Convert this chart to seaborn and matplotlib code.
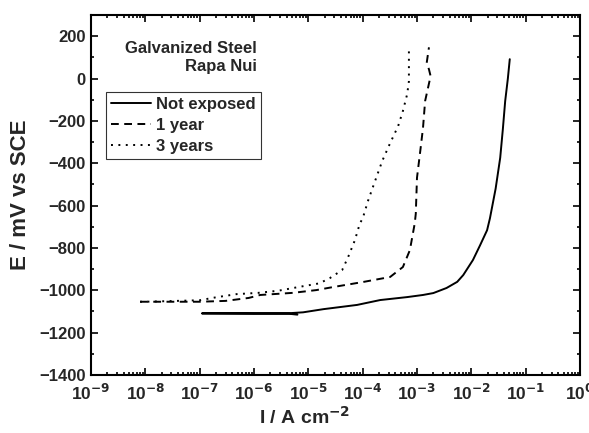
import matplotlib
matplotlib.use("Agg")
import matplotlib.pyplot as plt
import matplotlib.ticker as mticker
import seaborn as sns
import numpy as np
import pandas as pd

# Polarization curves of galvanized steel, Rapa Nui site
not_exposed_i = [6.3e-6, 4.5e-6, 1e-6, 1.1e-7, 1e-6, 4.5e-6, 8e-6,
                 1.9e-5, 7.9e-5, 2.1e-4, 6.6e-4, 1.29e-3, 2.0e-3, 3.5e-3,
                 5.5e-3, 7.1e-3, 1.07e-2, 1.45e-2, 1.95e-2, 2.2e-2, 2.8e-2,
                 3.4e-2, 3.8e-2, 4.2e-2, 4.7e-2, 5.1e-2]
not_exposed_e = [-1115, -1111, -1110, -1109, -1109, -1108, -1104,
                 -1089, -1069, -1046, -1032, -1022, -1013, -989,
                 -960, -928, -857, -787, -716, -660, -520,
                 -374, -240, -106, 0, 92]

one_year_i = [8e-9, 1e-8, 1e-7, 3e-7, 8e-7, 1.3e-6, 5.2e-6, 1.4e-5, 2.8e-5,
              1e-4, 3.2e-4, 5.5e-4, 7.4e-4, 9.1e-4, 9.5e-4, 1.0e-3, 1.15e-3,
              1.29e-3, 1.41e-3, 1.78e-3, 1.66e-3, 1.51e-3, 1.66e-3]
one_year_e = [-1054, -1054, -1054, -1050, -1036, -1022, -1012, -999, -985,
              -961, -937, -890, -810, -683, -638, -468, -341,
              -233, -106, 12, 44, 75, 148]

three_years_i = [8e-9, 1e-8, 1e-7, 2e-7, 4.8e-7, 1.2e-6, 2.8e-6, 7.1e-6, 1.07e-5,
                 1.6e-5, 2.5e-5, 4.2e-5, 5.4e-5, 7.2e-5, 8.9e-5, 1.0e-4,
                 1.26e-4, 1.7e-4, 2.3e-4, 3.16e-4, 4.5e-4, 5.5e-4, 6.6e-4,
                 7.1e-4, 7.1e-4]
three_years_e = [-1054, -1054, -1047, -1033, -1018, -1012, -1002, -983, -975,
                 -967, -942, -904, -843, -763, -683, -661,
                 -576, -482, -388, -308, -224, -153, -73,
                 -12, 139]

series_names = ["Not exposed", "1 year", "3 years"]
series_styles = ["-", (0, (4.0, 2.8)), (0, (1.0, 2.8))]

frames = []
for name, xs, ys in zip(series_names,
                        [not_exposed_i, one_year_i, three_years_i],
                        [not_exposed_e, one_year_e, three_years_e]):
    frames.append(pd.DataFrame({"I": xs, "E": ys, "series": name}))
data = pd.concat(frames, ignore_index=True)

sns.set_style("ticks")
plt.rcParams["font.family"] = ["Liberation Sans", "DejaVu Sans"]
plt.rcParams["font.weight"] = "bold"
plt.rcParams["mathtext.default"] = "bf"

fig = plt.figure(figsize=(5.89, 4.33), dpi=100)
ax = fig.add_axes([0.1545, 0.134, 0.9847 - 0.1545, 0.965 - 0.134])

for name, ls in zip(series_names, series_styles):
    sub = data[data["series"] == name]
    sns.lineplot(data=sub, x="I", y="E", sort=False, estimator=None,
                 color="black", linewidth=1.4, linestyle=ls, label=name, ax=ax)

ax.set_xscale("log")
ax.set_xlim(1e-9, 1)
ax.set_ylim(-1400, 295)
ax.set_yticks(np.arange(-1400, 201, 200))
ax.set_yticks(np.arange(-1300, 301, 200), minor=True)
ax.xaxis.set_major_locator(mticker.LogLocator(base=10, numticks=12))
ax.xaxis.set_minor_locator(mticker.LogLocator(base=10, subs=np.arange(2, 10), numticks=12))
ax.xaxis.set_minor_formatter(mticker.NullFormatter())
ax.xaxis.set_major_formatter(
    mticker.FuncFormatter(lambda v, _: r"10$^{\mathbf{%d}}$" % round(np.log10(v))))

for s in ax.spines.values():
    s.set_linewidth(1.5)
    s.set_color("black")
ax.tick_params(which="both", direction="in", top=True, right=True,
               color="black", width=1.2)
ax.tick_params(which="major", length=5, pad=4)
ax.tick_params(axis="y", which="major", labelsize=12)
ax.tick_params(axis="x", which="major", labelsize=12.5, pad=6)
ax.tick_params(which="minor", length=2.5)
for lbl in ax.get_xticklabels() + ax.get_yticklabels():
    lbl.set_fontweight("bold")

ax.set_xlabel(r"I / A cm$^{\mathbf{-2}}$", fontsize=14, fontweight="bold")
ax.xaxis.set_label_coords(0.438, -0.085)
ax.set_ylabel("E / mV vs SCE", fontsize=16, fontweight="bold", labelpad=6)

ax.text(0.339, 0.906, "Galvanized Steel", transform=ax.transAxes,
        fontsize=12, fontweight="bold", ha="right", va="center")
ax.text(0.339, 0.856, "Rapa Nui", transform=ax.transAxes,
        fontsize=12, fontweight="bold", ha="right", va="center")

leg = ax.legend(loc="upper left", bbox_to_anchor=(0.031, 0.786), frameon=True,
                fancybox=False, edgecolor="black", handlelength=2.4,
                handletextpad=0.3, borderpad=0.3, labelspacing=0.35,
                borderaxespad=0.0, prop={"size": 12, "weight": "bold"})
leg.get_frame().set_linewidth(0.8)

fig.savefig("out.png", dpi=100)
